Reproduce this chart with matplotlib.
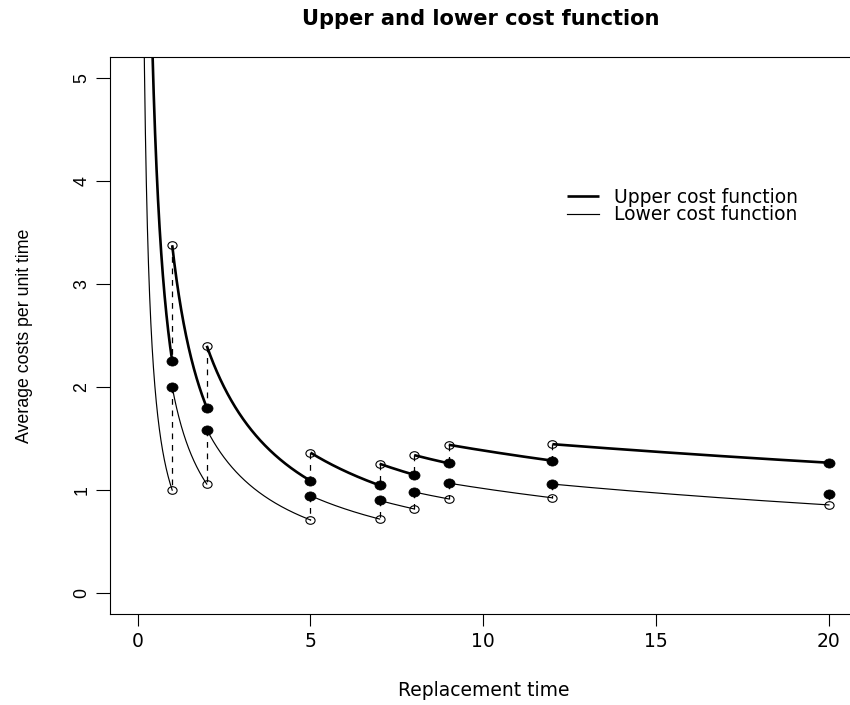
import numpy as np
import matplotlib
matplotlib.use("Agg")
import matplotlib.pyplot as plt
from matplotlib.path import Path

# replacement times at which the cost functions jump
breaks = [0, 1, 2, 5, 7, 8, 9, 12, 20]
# upper cost function: value at the left end of each interval (open circle); inf = pole at t=0
upper_start = [np.inf, 3.375, 2.400, 1.364, 1.256, 1.340, 1.440, 1.446]
# upper cost function: value at the right end of each interval (filled point)
upper_end = [2.250, 1.800, 1.091, 1.047, 1.149, 1.260, 1.286, 1.266]
# lower cost function: value at the left end of each interval (filled point)
lower_start = [np.inf, 2.000, 1.588, 0.947, 0.900, 0.982, 1.068, 1.059]
# lower cost function: value at the right end of each interval (open circle)
lower_end = [1.000, 1.059, 0.711, 0.720, 0.818, 0.915, 0.926, 0.857]
# lower cost function at the last time (filled point)
lower_last = 0.964

x_ticks = [0, 5, 10, 15, 20]
y_ticks = [0, 1, 2, 3, 4, 5]
title = "Upper and lower cost function"
x_label = "Replacement time"
y_label = "Average costs per unit time"
legend_labels = ["Upper cost function", "Lower cost function"]


def segment(t1, t2, y1, y2, n=400):
    """Cost-function piece of the form A / (t + B) through the two end values."""
    if np.isinf(y1):
        B = 0.0
        A = y2 * t2
        t = np.linspace(max(t1, 1e-3), t2, n)
    else:
        B = (y2 * t2 - y1 * t1) / (y1 - y2)
        A = y1 * (t1 + B)
        t = np.linspace(t1, t2, n)
    return t, A / (t + B)


W, H = 850, 705
fig = plt.figure(figsize=(W / 100, H / 100), dpi=100)
left_px, right_px, top_px, bot_px = 110, 856.6, 57.1, 613.9
ax = fig.add_axes([left_px / W, (H - bot_px) / H,
                   (right_px - left_px) / W, (bot_px - top_px) / H])

lw_up, lw_lo = 1.9, 0.85
dash = (0, (4.6, 4.6))

up_line = lo_line = None
for i in range(len(breaks) - 1):
    t1, t2 = breaks[i], breaks[i + 1]
    t, y = segment(t1, t2, upper_start[i], upper_end[i])
    l1, = ax.plot(t, y, color="black", lw=lw_up, solid_capstyle="butt", zorder=3)
    t, y = segment(t1, t2, lower_start[i], lower_end[i])
    l2, = ax.plot(t, y, color="black", lw=lw_lo, zorder=3)
    up_line, lo_line = l1, l2

# dashed jumps
for i in range(1, len(breaks) - 1):
    tb = breaks[i]
    ax.plot([tb, tb], [upper_start[i], upper_end[i - 1]], color="black",
            lw=0.9, ls=dash, zorder=2)
    ax.plot([tb, tb], [lower_start[i], lower_end[i - 1]], color="black",
            lw=0.9, ls=dash, zorder=2)
ax.plot([breaks[-1], breaks[-1]], [lower_last, lower_end[-1]], color="black",
        lw=0.9, ls=dash, zorder=2)

# elliptical markers (reference is stretched horizontally)
circ = Path.unit_circle()
ell = Path(circ.vertices * np.array([1.21, 1.0]), circ.codes)

tb = np.array(breaks[1:])
# filled points
ax.plot(tb, upper_end, ls="none", marker=ell, ms=8.0, mfc="black", mec="black",
        mew=0.5, zorder=5)
ax.plot(breaks[1:-1], lower_start[1:], ls="none", marker=ell, ms=8.0, mfc="black",
        mec="black", mew=0.5, zorder=5)
ax.plot([breaks[-1]], [lower_last], ls="none", marker=ell, ms=8.0, mfc="black",
        mec="black", mew=0.5, zorder=5)
# open circles
ax.plot(breaks[1:-1], upper_start[1:], ls="none", marker=ell, ms=6.6, mfc="none",
        mec="black", mew=0.8, zorder=5)
ax.plot(tb, lower_end, ls="none", marker=ell, ms=6.6, mfc="none", mec="black",
        mew=0.8, zorder=5)

ax.set_xlim(-0.8, 20.8)
ax.set_ylim(-0.2, 5.2)
ax.set_xticks(x_ticks)
ax.set_yticks(y_ticks)
ax.set_xticklabels([str(v) for v in x_ticks], family="DejaVu Sans", fontsize=13.5)
ax.set_yticklabels([str(v) for v in y_ticks], family="Liberation Sans", fontsize=12.8,
                   rotation=90, va="center")
ax.tick_params(axis="x", length=8.6, width=0.8, pad=4.5, direction="out")
ax.tick_params(axis="y", length=9.8, width=0.8, pad=4.5, direction="out")
for s in ax.spines.values():
    s.set_linewidth(0.8)

ax.set_xlabel(x_label, family="DejaVu Sans", fontsize=13.5)
ax.xaxis.set_label_coords(0.5, (bot_px - 690) / (bot_px - top_px))
ax.xaxis.label.set_va("center")
ax.set_ylabel(y_label, family="Liberation Sans", fontsize=12.8)
ax.yaxis.set_label_coords((25 - left_px) / (right_px - left_px), 0.5)
ax.yaxis.label.set_va("center")

fig.text(481 / W, (H - 25) / H, title, ha="center", va="baseline",
         family="DejaVu Sans", fontweight="bold", fontsize=15.1)

leg = ax.legend([up_line, lo_line], legend_labels, loc="upper left",
                bbox_to_anchor=(567 / W, (H - 188) / H), bbox_transform=fig.transFigure,
                frameon=False, borderpad=0, borderaxespad=0, handlelength=1.7,
                handletextpad=0.8, labelspacing=-0.1,
                prop={"family": "DejaVu Sans", "size": 13.5})

fig.savefig("out.png", dpi=100)
